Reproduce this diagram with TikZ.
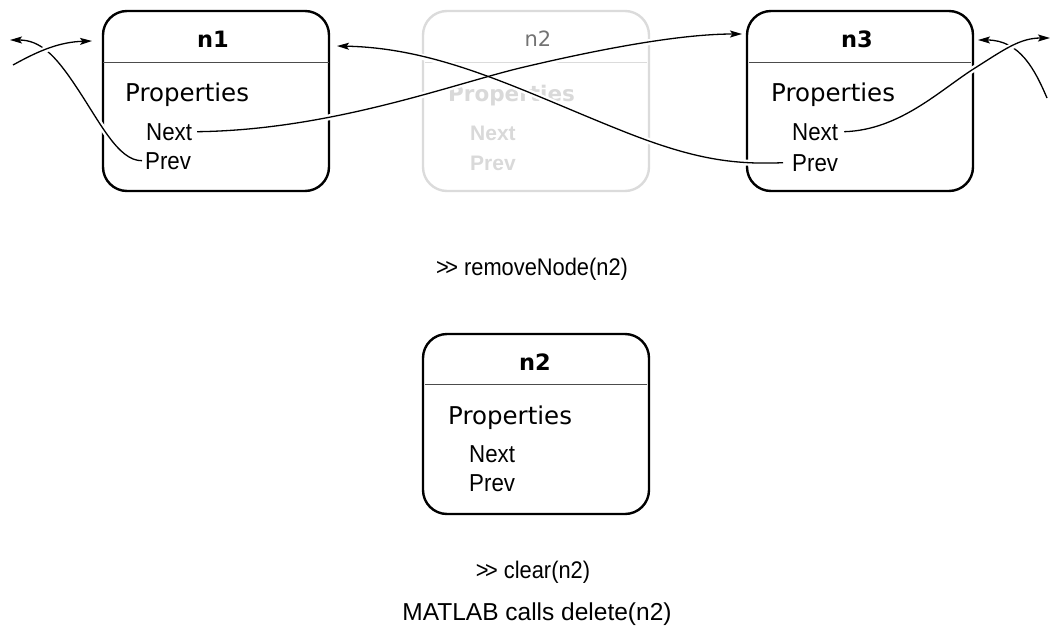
\documentclass[tikz,border=0pt]{standalone}
\usepackage{fontspec}
\setmainfont{Liberation Sans}
\newfontfamily\dvs{DejaVu Sans}
\newfontfamily\cond{Liberation Sans}[FakeStretch=0.91]
\usetikzlibrary{arrows.meta}
\begin{document}
\begin{tikzpicture}[x=1pt,y=-1pt,
  box/.style={draw=black, line width=2.4pt, rounded corners=24pt, minimum width=226pt, minimum height=180pt, inner sep=0pt, outer sep=0pt},
  fadebox/.style={box, draw=black!14},
  divline/.style={draw=black!70, line width=0.9pt},
  fadediv/.style={draw=black!14, line width=0.9pt},
  title/.style={font=\dvs\bfseries\fontsize{22.5}{26}\selectfont, anchor=base, inner sep=0pt},
  fadetitle/.style={font=\dvs\fontsize{21}{24}\selectfont, anchor=base, inner sep=0pt, text=black!55},
  prop/.style={font=\dvs\fontsize{24.5}{28}\selectfont, anchor=base west, inner sep=0pt},
  fadeprop/.style={font=\dvs\bfseries\fontsize{21.5}{26}\selectfont, anchor=base west, inner sep=0pt, text=black!15},
  field/.style={font=\cond\fontsize{24.5}{28}\selectfont, anchor=base west, inner sep=0pt},
  fadefield/.style={font=\bfseries\fontsize{21}{26}\selectfont, anchor=base west, inner sep=0pt, text=black!15},
  cmd/.style={font=\cond\fontsize{24}{28}\selectfont, anchor=base, inner sep=0pt},
  cmdwide/.style={font=\fontsize{24.5}{28}\selectfont, anchor=base, inner sep=0pt},
  conn/.style={draw=black, line width=1.3pt, -{Stealth[length=12pt,width=7pt,inset=2.5pt]}},
  haloed/.style={conn, preaction={draw=white, line width=6pt, arrows=-}},
  halo/.style={draw=white, line width=6pt}
]
\useasboundingbox (0,0) rectangle (1054,626);

% boxes
\node[box] (n1box) at (216,101) {};
\node[fadebox] (n2fbox) at (536,101) {};
\node[box] (n3box) at (860,101) {};
\node[box] (n2box) at (536,424) {};

\draw[divline] (103,62) -- (329,62);
\draw[fadediv] (425,62) -- (647,62);
\draw[divline] (749,62) -- (971,62);
\draw[divline] (425,384) -- (647,384);

% n1
\node[title] (n1t) at (213,48) {n1};
\node[prop] (n1p) at (125,101) {Properties};
\node[field] (n1next) at (146,140) {Next};
\node[field] (n1prev) at (145,169) {Prev};

% faded n2
\node[fadetitle] (n2ft) at (538,47) {n2};
\node[fadeprop] (n2fp) at (448,101) {Properties};
\node[fadefield] (n2fnext) at (470,140) {Next};
\node[fadefield] (n2fprev) at (470,170) {Prev};

% n3
\node[title] (n3t) at (857,48) {n3};
\node[prop] (n3p) at (771,101) {Properties};
\node[field] (n3next) at (792,140) {Next};
\node[field] (n3prev) at (792,171) {Prev};

% n2 bottom
\node[title] (n2t) at (535,370) {n2};
\node[prop] (n2p) at (448,424) {Properties};
\node[field] (n2next) at (469,462) {Next};
\node[field] (n2prev) at (469,491) {Prev};

% commands
\node[cmd] (c1) at (532,275) {{>}\kern-3.5pt{>} removeNode(n2)};
\node[cmd] (c2) at (533,578) {{>}\kern-3.5pt{>} clear(n2)};
\node[cmdwide] (c3) at (537,620) {MATLAB calls delete(n2)};

% free ends
\coordinate (offL) at (10,40);
\coordinate (inL) at (13,65);
\coordinate (n1in) at (92,41);
\coordinate (n1inR) at (337,46);
\coordinate (n3in) at (742,34);
\coordinate (n3inR) at (978,40);
\coordinate (offR) at (1050,38);
\coordinate (inR) at (1047,98);

% left connectors
\path[haloed] ([xshift=-3pt]n1prev.west) .. controls (118,161) and (100,122) .. (75,85)
   .. controls (55,55) and (40,40) .. (offL);
\path[haloed] (inL) .. controls (40,50) and (60,42) .. (n1in);

% right connectors
\path[haloed] (inR) .. controls (1035,70) and (1020,40) .. (n3inR);
\path[haloed] ([xshift=6pt]n3next.east) .. controls (900,130) and (940,90) .. (975,68)
   .. controls (1005,49) and (1020,38) .. (offR);

% middle connectors: halos first
\path[halo] ([xshift=5pt]n1next.east) .. controls (330,130) and (450,85) .. (520,68)
   .. controls (600,49) and (680,34) .. (n3in);
\path[halo] ([xshift=-9pt]n3prev.west) .. controls (730,165) and (690,158) .. (620,130)
   .. controls (520,90) and (440,48) .. (n1inR);
\path[conn] ([xshift=5pt]n1next.east) .. controls (330,130) and (450,85) .. (520,68)
   .. controls (600,49) and (680,34) .. (n3in);
\path[conn] ([xshift=-9pt]n3prev.west) .. controls (730,165) and (690,158) .. (620,130)
   .. controls (520,90) and (440,48) .. (n1inR);
\end{tikzpicture}
\end{document}
